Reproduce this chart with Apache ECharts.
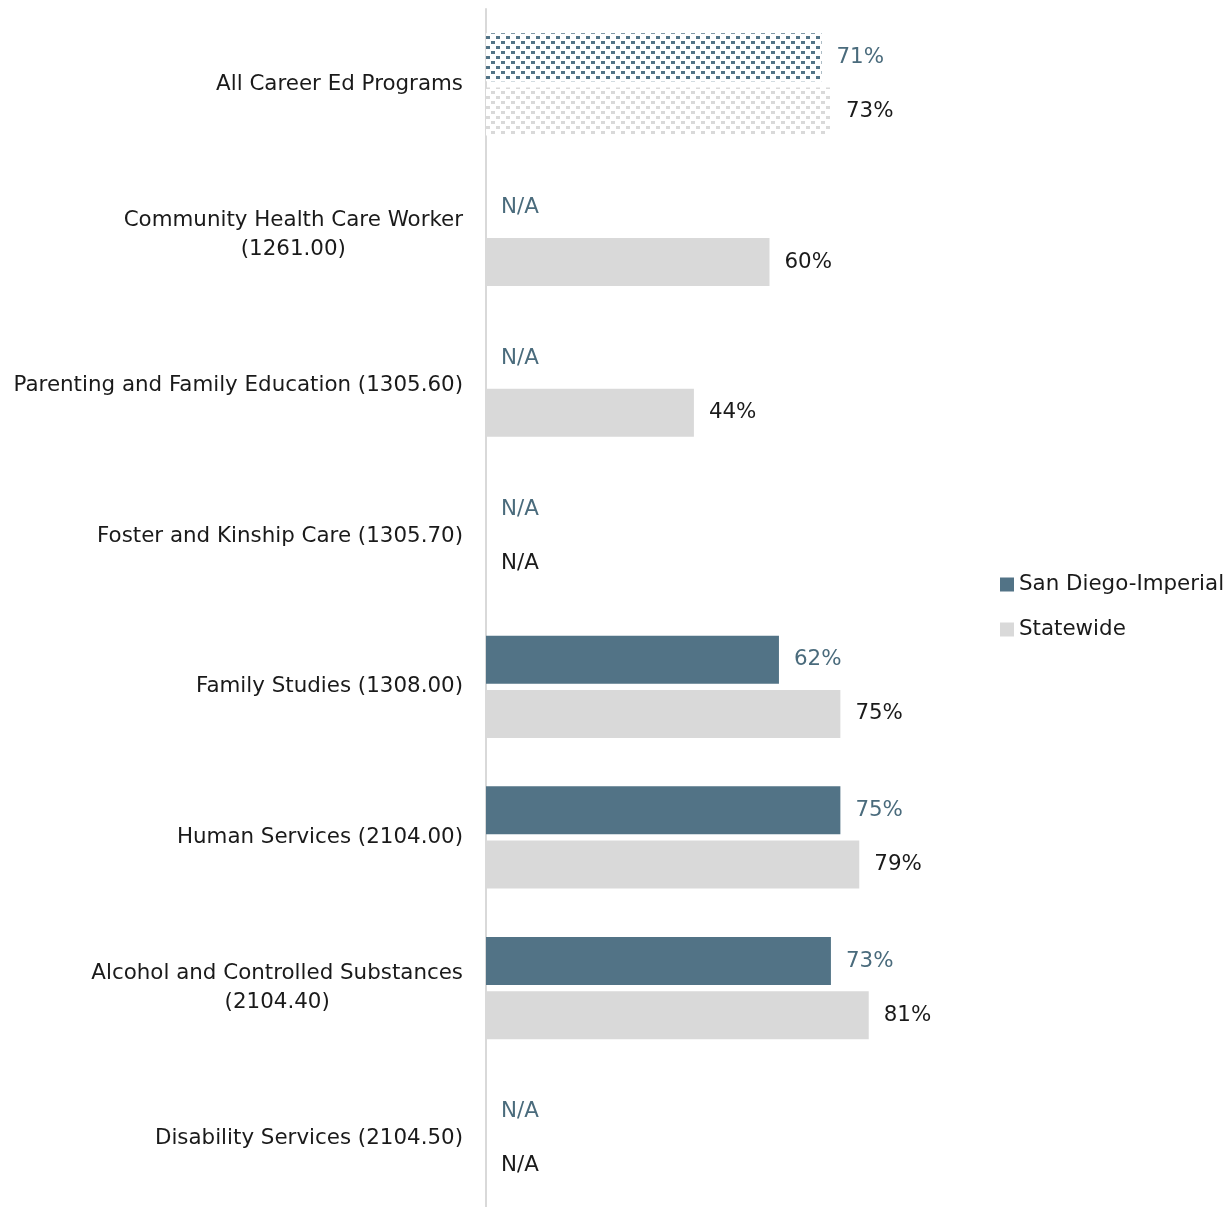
<!DOCTYPE html>
<html><head><meta charset="utf-8">
<script src="https://cdn.jsdelivr.net/npm/echarts@6/dist/echarts.min.js"></script>
<style>html,body{margin:0;padding:0;background:#fff;overflow:hidden}#c{width:1231px;height:1214px}</style>
</head><body><div id="c"></div>
<script>
const categories = [
  'All Career Ed Programs',
  'Community Health Care Worker\n(1261.00)',
  'Parenting and Family Education (1305.60)',
  'Foster and Kinship Care (1305.70)',
  'Family Studies (1308.00)',
  'Human Services (2104.00)',
  'Alcohol and Controlled Substances\n(2104.40)',
  'Disability Services (2104.50)'
];
const sdValues = [71, null, null, null, 62, 75, 73, null];
const stateValues = [73, 60, 44, null, 75, 79, 81, null];
const seriesNames = ['San Diego-Imperial', 'Statewide'];

const FONT = '"DejaVu Sans", sans-serif';
const FS = 21.4;
const SD_COLOR = '#527386';
const ST_COLOR = '#d9d9d9';

function makePattern(fg) {
  const c = document.createElement('canvas');
  c.width = 10; c.height = 10;
  const ctx = c.getContext('2d');
  ctx.fillStyle = '#ffffff';
  ctx.fillRect(0, 0, 10, 10);
  ctx.fillStyle = fg;
  ctx.fillRect(1, 1, 4, 3);
  ctx.fillRect(6, 6, 4, 3);
  return { image: c, repeat: 'repeat' };
}

const mc = document.createElement('canvas').getContext('2d');
mc.font = FS + 'px ' + FONT;
const rich = {};
const labelMap = {};
categories.forEach((cat, i) => {
  const lines = cat.split('\n');
  if (lines.length > 1) {
    const w = Math.max(...lines.map(l => mc.measureText(l).width));
    rich['c' + i] = { width: w, align: 'center', fontSize: FS, fontFamily: FONT, color: '#1a1a1a', lineHeight: 29 };
    labelMap[cat] = lines.map(l => '{c' + i + '|' + l + '}').join('\n');
  }
});

function toData(vals, idx) {
  return vals.map((v, i) => {
    const item = v == null ? { value: 0, isNA: true } : { value: v };
    if (i === 0 && v != null) {
      item.itemStyle = { color: makePattern(idx === 0 ? SD_COLOR : ST_COLOR) };
    }
    return item;
  });
}

const chart = echarts.init(document.getElementById('c'));
chart.setOption({
  animation: false,
  textStyle: { fontFamily: FONT },
  grid: { left: 486, width: 472.5, top: 9, bottom: 0, containLabel: false },
  xAxis: { type: 'value', min: 0, max: 100, show: false },
  yAxis: {
    type: 'category', data: categories, inverse: true,
    axisLine: { show: true, lineStyle: { color: '#d9d9d9', width: 2 } },
    axisTick: { show: false },
    axisLabel: {
      margin: 23, fontSize: FS, fontFamily: FONT, color: '#1a1a1a', lineHeight: 29,
      formatter: v => labelMap[v] || v, rich: rich
    }
  },
  legend: {
    orient: 'vertical', left: 1000, top: 574, padding: 0,
    icon: 'rect', itemWidth: 14, itemHeight: 14, itemGap: 24, itemTextGap: 5,
    textStyle: { fontSize: FS, fontFamily: FONT, color: '#1a1a1a' },
    data: seriesNames
  },
  series: [
    {
      name: seriesNames[0], type: 'bar', data: toData(sdValues, 0),
      barWidth: 48, barGap: '13%',
      itemStyle: { color: SD_COLOR },
      label: {
        show: true, position: 'right', distance: 15, fontSize: FS, fontFamily: FONT, color: '#4a6b7c',
        formatter: p => p.data.isNA ? 'N/A' : p.value + '%'
      }
    },
    {
      name: seriesNames[1], type: 'bar', data: toData(stateValues, 1),
      barWidth: 48,
      itemStyle: { color: ST_COLOR },
      label: {
        show: true, position: 'right', distance: 15, fontSize: FS, fontFamily: FONT, color: '#1a1a1a',
        formatter: p => p.data.isNA ? 'N/A' : p.value + '%'
      }
    }
  ]
});
</script></body></html>
